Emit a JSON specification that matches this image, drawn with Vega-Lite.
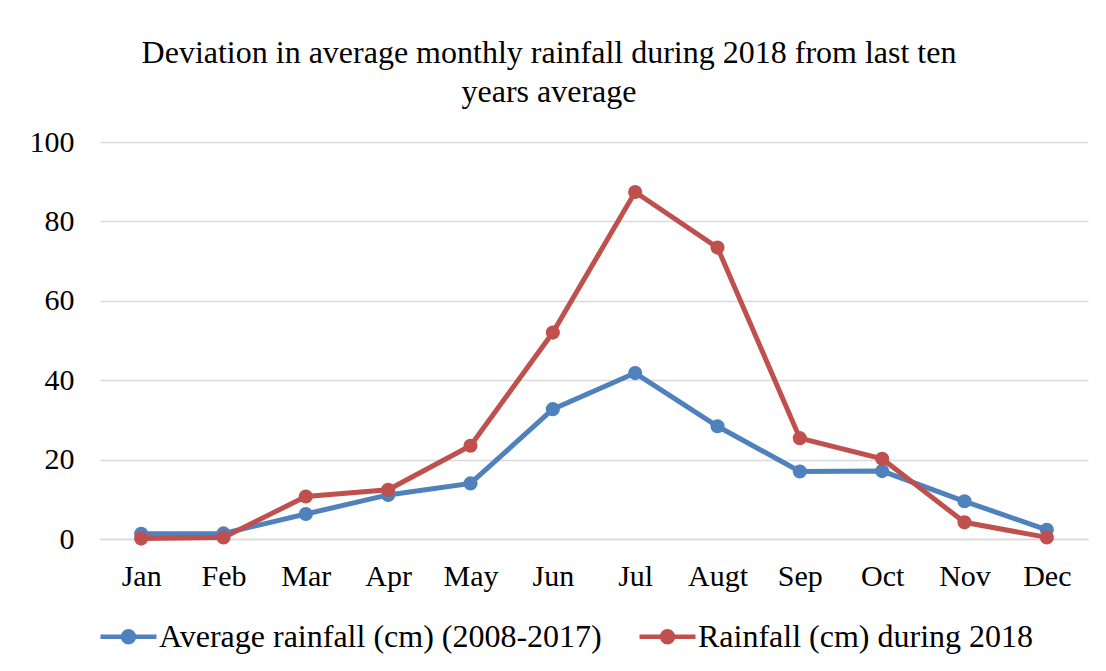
{
  "$schema": "https://vega.github.io/schema/vega-lite/v6.json",
  "width": 988,
  "height": 397,
  "autosize": "none",
  "padding": {"left": 100, "top": 142, "right": 18, "bottom": 132},
  "background": "white",
  "title": {
    "text": ["Deviation in average monthly rainfall during 2018 from last ten", "years average"],
    "font": "Liberation Serif",
    "fontSize": 32,
    "fontWeight": "normal",
    "color": "black",
    "anchor": "middle",
    "dx": -45,
    "lineHeight": 39,
    "offset": 18
  },
  "data": {
    "values": [
      {"month": "Jan", "series": "Average rainfall (cm) (2008-2017)", "value": 1.3},
      {"month": "Feb", "series": "Average rainfall (cm) (2008-2017)", "value": 1.4},
      {"month": "Mar", "series": "Average rainfall (cm) (2008-2017)", "value": 6.3},
      {"month": "Apr", "series": "Average rainfall (cm) (2008-2017)", "value": 11.1},
      {"month": "May", "series": "Average rainfall (cm) (2008-2017)", "value": 14.0},
      {"month": "Jun", "series": "Average rainfall (cm) (2008-2017)", "value": 32.7},
      {"month": "Jul", "series": "Average rainfall (cm) (2008-2017)", "value": 41.8},
      {"month": "Augt", "series": "Average rainfall (cm) (2008-2017)", "value": 28.4},
      {"month": "Sep", "series": "Average rainfall (cm) (2008-2017)", "value": 17.0},
      {"month": "Oct", "series": "Average rainfall (cm) (2008-2017)", "value": 17.1},
      {"month": "Nov", "series": "Average rainfall (cm) (2008-2017)", "value": 9.5},
      {"month": "Dec", "series": "Average rainfall (cm) (2008-2017)", "value": 2.3},
      {"month": "Jan", "series": "Rainfall (cm) during 2018", "value": 0.1},
      {"month": "Feb", "series": "Rainfall (cm) during 2018", "value": 0.4},
      {"month": "Mar", "series": "Rainfall (cm) during 2018", "value": 10.7},
      {"month": "Apr", "series": "Rainfall (cm) during 2018", "value": 12.4},
      {"month": "May", "series": "Rainfall (cm) during 2018", "value": 23.5},
      {"month": "Jun", "series": "Rainfall (cm) during 2018", "value": 52.0},
      {"month": "Jul", "series": "Rainfall (cm) during 2018", "value": 87.4},
      {"month": "Augt", "series": "Rainfall (cm) during 2018", "value": 73.4},
      {"month": "Sep", "series": "Rainfall (cm) during 2018", "value": 25.4},
      {"month": "Oct", "series": "Rainfall (cm) during 2018", "value": 20.2},
      {"month": "Nov", "series": "Rainfall (cm) during 2018", "value": 4.2},
      {"month": "Dec", "series": "Rainfall (cm) during 2018", "value": 0.4}
    ]
  },
  "mark": {
    "type": "line",
    "strokeWidth": 5,
    "point": {"filled": true, "size": 200}
  },
  "encoding": {
    "x": {
      "field": "month",
      "type": "ordinal",
      "sort": ["Jan", "Feb", "Mar", "Apr", "May", "Jun", "Jul", "Augt", "Sep", "Oct", "Nov", "Dec"],
      "scale": {"type": "point", "padding": 0.5},
      "axis": {
        "title": null,
        "labelAngle": 0,
        "labelFont": "Liberation Serif",
        "labelFontSize": 30,
        "labelColor": "black",
        "labelPadding": 22,
        "ticks": false,
        "domain": true,
        "domainColor": "#d9d9d9",
        "domainWidth": 1.5,
        "grid": false
      }
    },
    "y": {
      "field": "value",
      "type": "quantitative",
      "scale": {"domain": [0, 100], "nice": false, "zero": true},
      "axis": {
        "title": null,
        "values": [0, 20, 40, 60, 80, 100],
        "labelFont": "Liberation Serif",
        "labelFontSize": 30,
        "labelColor": "black",
        "labelPadding": 26,
        "ticks": false,
        "domain": false,
        "grid": true,
        "gridColor": "#d9d9d9",
        "gridWidth": 1.5
      }
    },
    "color": {
      "field": "series",
      "type": "nominal",
      "scale": {
        "domain": ["Average rainfall (cm) (2008-2017)", "Rainfall (cm) during 2018"],
        "range": ["#4f81bd", "#c0504d"]
      },
      "legend": {
        "title": null,
        "orient": "none",
        "direction": "horizontal",
        "legendX": -2,
        "legendY": 464,
        "labelFont": "Liberation Serif",
        "labelFontSize": 32,
        "labelColor": "black",
        "labelLimit": 0,
        "labelOffset": 0,
        "columnPadding": 28,
        "symbolType": "M-1,0L1,0M-0.19,0A0.19,0.19,0,1,0,0.19,0A0.19,0.19,0,1,0,-0.19,0Z",
        "symbolSize": 3136,
        "symbolStrokeWidth": 4.7,
        "encode": {
          "symbols": {"update": {"fill": {"scale": "color", "field": "value"}, "fillOpacity": {"value": 1}}}
        }
      }
    }
  },
  "config": {
    "view": {"stroke": null}
  }
}
